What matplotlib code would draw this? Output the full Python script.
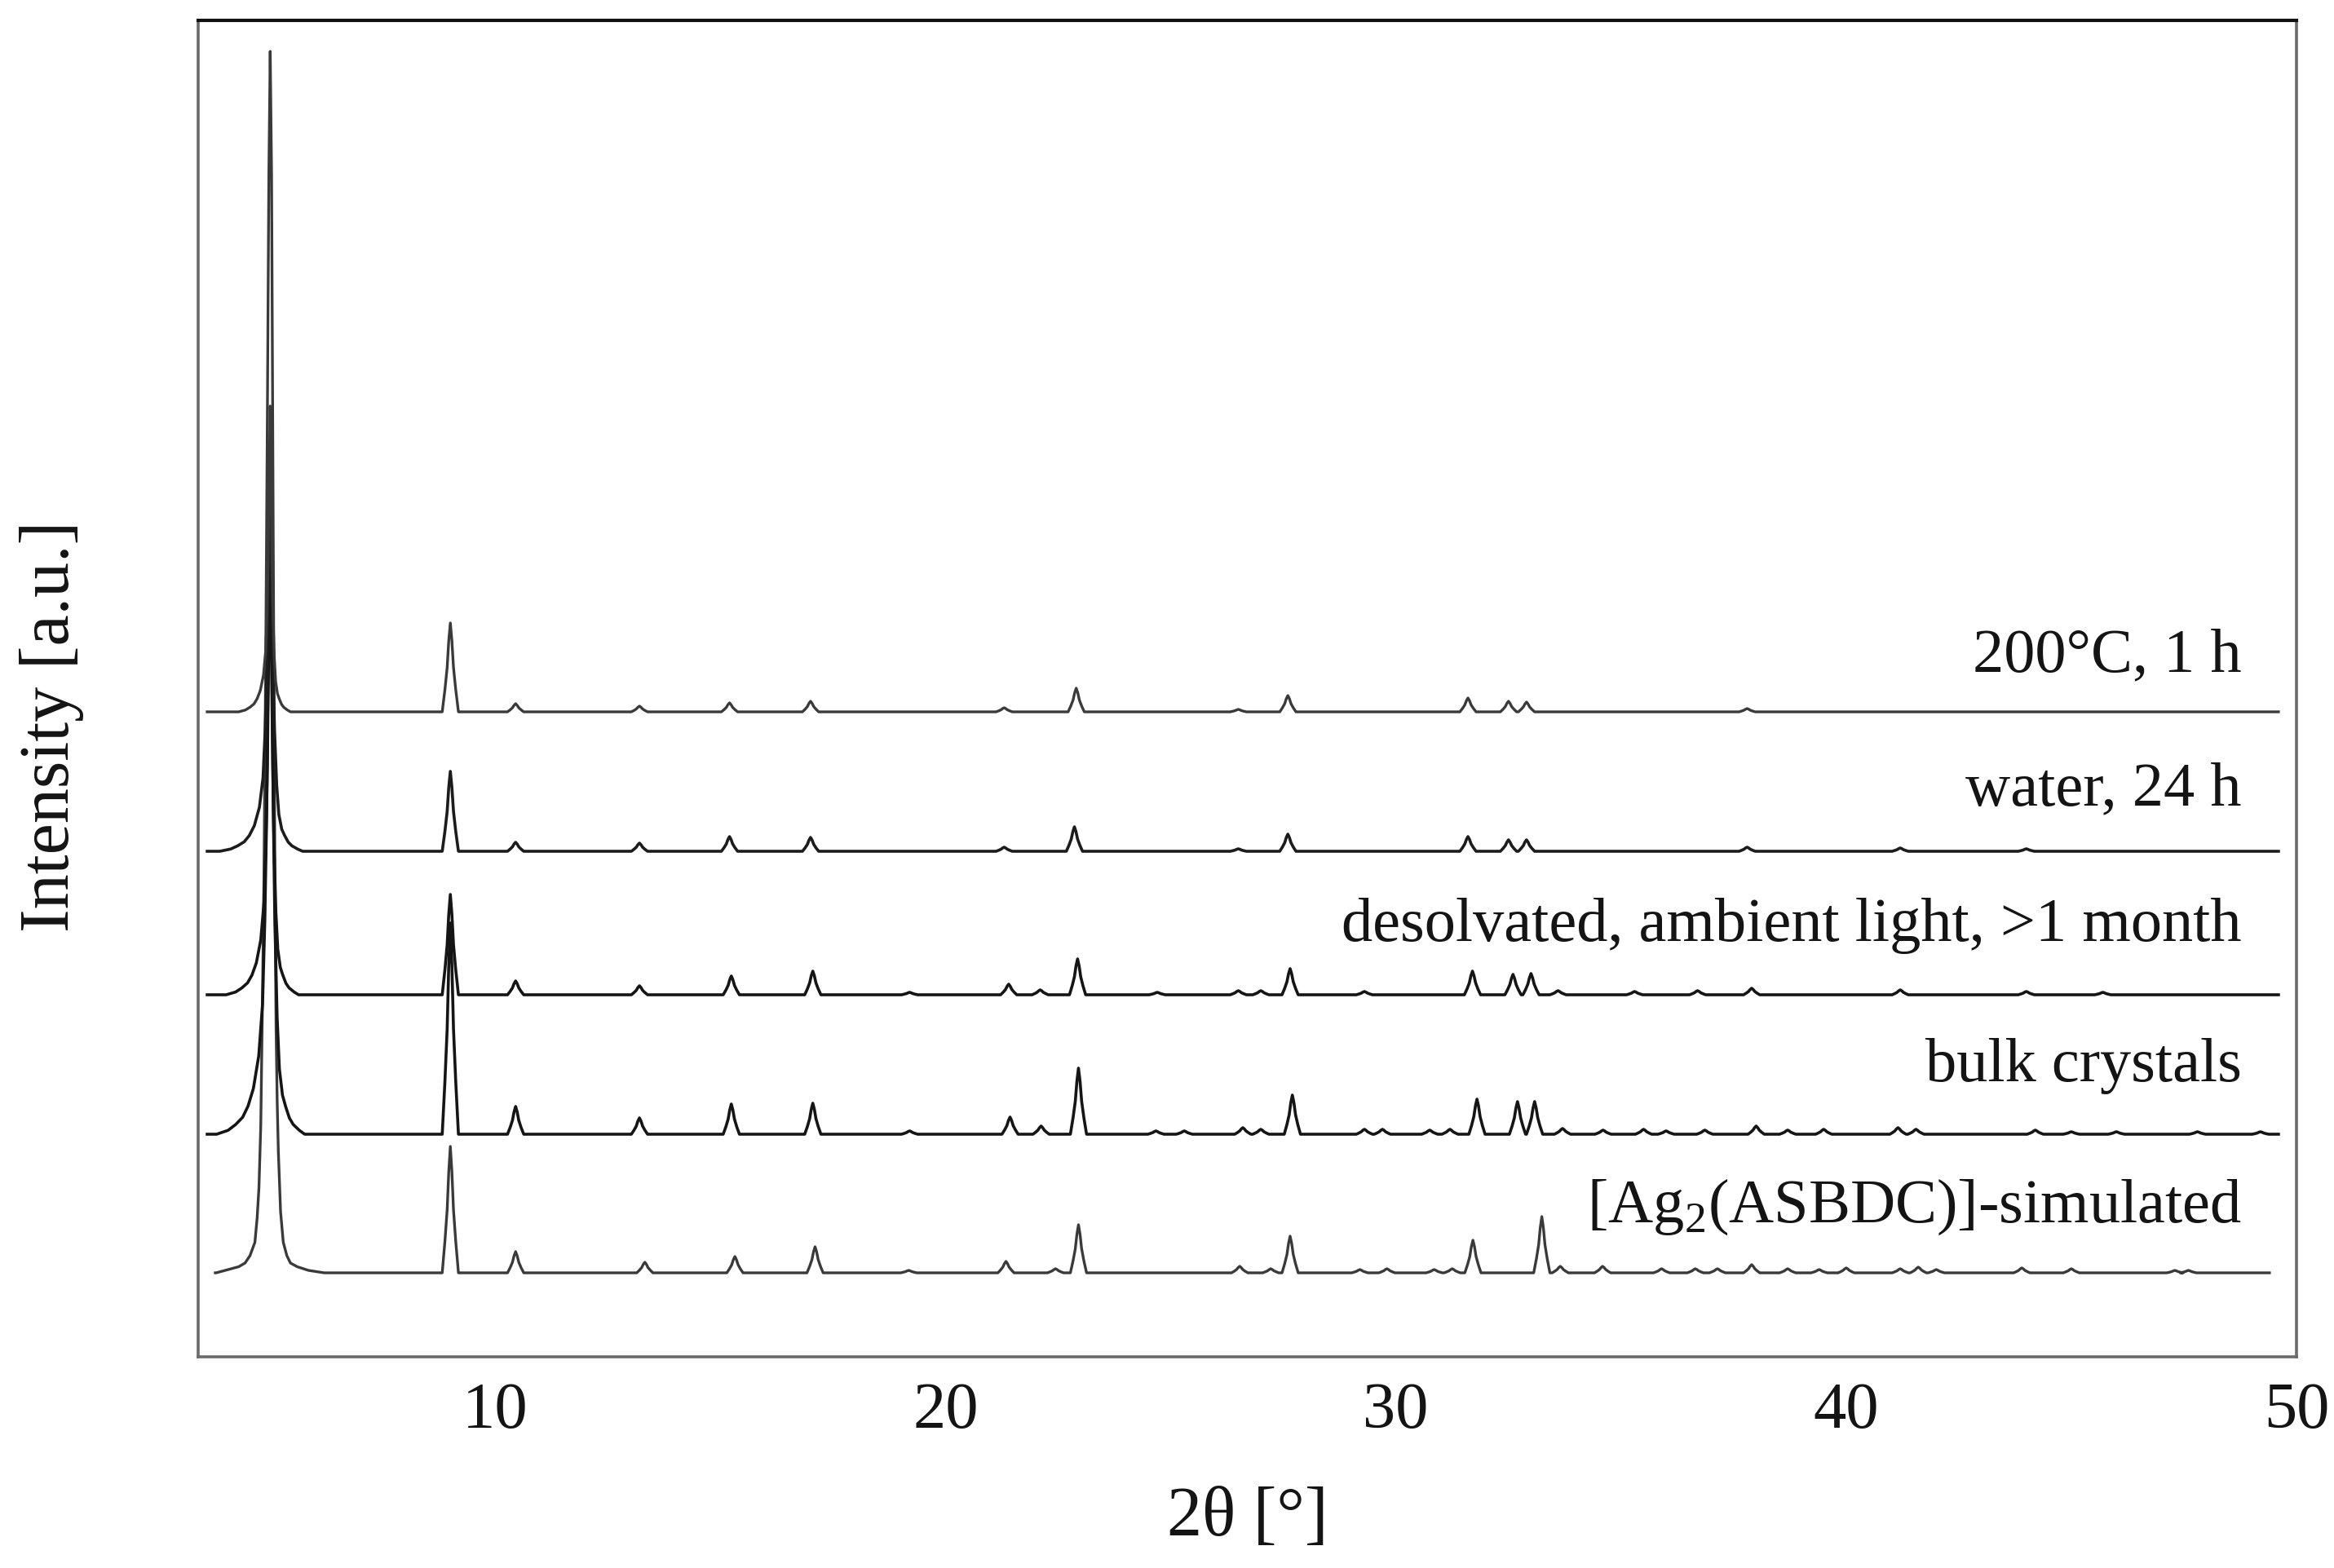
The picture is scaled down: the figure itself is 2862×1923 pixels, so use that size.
import matplotlib
matplotlib.use('Agg')
import matplotlib.pyplot as plt
import numpy as np

plt.rcParams['font.family'] = ['Liberation Serif', 'DejaVu Serif']
plt.rcParams['mathtext.fontset'] = 'custom'
plt.rcParams['mathtext.rm'] = 'Liberation Serif'

# stacked patterns, bottom to top
labels = [r'[Ag$_{\mathregular{2}}$(ASBDC)]-simulated', 'bulk crystals',
          'desolvated, ambient light, >1 month', 'water, 24 h', '200°C, 1 h']
offsets = [103, 273, 444, 620, 791]      # baseline of each pattern [a.u.]
label_y = [165, 338, 510, 677, 841]
x_start = [3.78, 3.6, 3.6, 3.6, 3.6]
x_end = [49.4, 49.6, 49.6, 49.6, 49.6]

# strongest reflection at low angle
main_pos = 5.0
main_height = [1498, 800, 560, 450, 375]
main_width = [1.0, 1.7, 1.4, 1.6, 1.0]

# remaining reflections: 2theta [deg] and height [a.u.]
sim_pos = [9.0, 10.45, 13.32, 15.32, 17.1, 19.18, 21.34, 22.44, 22.95, 26.53, 27.22,
           27.65, 29.2, 29.8, 30.85, 31.25, 31.71, 33.24, 33.65, 34.59, 35.9, 36.65,
           37.14, 37.9, 38.7, 39.4, 40.0, 41.2, 41.6, 42.0, 43.9, 45.0, 47.3, 47.6]
sim_h = [155, 26, 13, 20, 32, 3, 14, 5, 59, 8, 5,
         45, 4, 5, 4, 5, 40, 69, 8, 8, 5, 5,
         5, 10, 5, 4, 6, 5, 7, 4, 6, 5, 3, 3]

bulk_pos = [9.0, 10.45, 13.2, 15.24, 17.05, 19.2, 21.43, 22.12, 22.95, 24.67, 25.3,
            26.6, 27.0, 27.7, 29.3, 29.7, 30.75, 31.2, 31.8, 32.7, 33.08, 33.7,
            34.6, 35.5, 36.0, 36.86, 38.0, 38.7, 39.5, 41.15, 41.55, 44.2, 45.0,
            46.0, 47.8, 49.2]
bulk_h = [259, 34, 20, 37, 38, 4, 21, 10, 81, 4, 4,
          8, 6, 48, 6, 6, 5, 6, 43, 40, 40, 7,
          5, 6, 4, 5, 10, 5, 6, 8, 6, 5, 3,
          3, 3, 3]

des_pos = [9.0, 10.45, 13.2, 15.24, 17.05, 19.2, 21.4, 22.1, 22.93, 24.7, 26.5,
           27.0, 27.65, 29.3, 31.7, 32.6, 33.0, 33.6, 35.3, 36.7, 37.9, 41.2,
           44.0, 45.7]
des_h = [123, 17, 11, 23, 29, 3, 13, 6, 44, 3, 5,
         5, 32, 4, 29, 25, 26, 5, 4, 5, 8, 6,
         4, 3]

water_pos = [9.0, 10.45, 13.2, 15.2, 17.0, 21.3, 22.86, 26.5, 27.6, 31.6, 32.5,
             32.9, 37.8, 41.2, 44.0]
water_h = [98, 11, 10, 18, 17, 5, 30, 3, 21, 18, 14,
           14, 5, 4, 3]

hot_pos = [9.0, 10.45, 13.2, 15.2, 17.0, 21.3, 22.9, 26.5, 27.6, 31.6, 32.5,
           32.9, 37.8]
hot_h = [109, 10, 7, 11, 13, 5, 29, 3, 20, 17, 13,
         12, 4]

peak_pos = [sim_pos, bulk_pos, des_pos, water_pos, hot_pos]
peak_h = [sim_h, bulk_h, des_h, water_h, hot_h]

# peak outlines (offset in deg, fraction of height)
small_dx = [-0.18, -0.12, -0.07, -0.035, 0, 0.035, 0.07, 0.12, 0.18]
small_fr = [0, 0.25, 0.5, 0.8, 1, 0.8, 0.5, 0.25, 0]
main_dx = [-0.7, -0.55, -0.45, -0.36, -0.29, -0.22, -0.15, -0.1, -0.07, -0.045,
           -0.025, 0, 0.02, 0.04, 0.06, 0.09, 0.12, 0.16, 0.2, 0.25, 0.3, 0.38, 0.45]
main_fr = [0, 0.006, 0.015, 0.026, 0.043, 0.07, 0.12, 0.2, 0.33, 0.5,
           0.75, 1, 0.75, 0.5, 0.33, 0.18, 0.1, 0.06, 0.043, 0.025, 0.015, 0.006, 0]
simmain_dx = [-1.2, -0.9, -0.7, -0.56, -0.45, -0.34, -0.29, -0.25, -0.21, -0.18,
              -0.14, -0.1, -0.06, -0.03, 0, 0.03, 0.055, 0.08, 0.105, 0.13, 0.155,
              0.18, 0.23, 0.29, 0.37, 0.45, 0.6, 0.85, 1.2]
simmain_fr = [0, 0.003, 0.005, 0.008, 0.014, 0.025, 0.045, 0.07, 0.12, 0.2,
              0.32, 0.5, 0.72, 0.9, 1, 0.9, 0.7, 0.5, 0.32, 0.2, 0.14,
              0.1, 0.05, 0.025, 0.014, 0.008, 0.005, 0.002, 0]

colors = ['#3a3a3a', '#151515', '#151515', '#1c1c1c', '#3a3a3a']
widths = [2.4, 2.6, 2.6, 2.6, 2.4]

fig = plt.figure(figsize=(28.62, 19.23), dpi=100)
ax = fig.add_axes([243/2862, 1-1664/1923, (2816-243)/2862, (1664-25)/1923])

for i in range(5):
    if i == 0:
        mdx, mfr = np.array(simmain_dx), np.array(simmain_fr)
    else:
        mdx, mfr = np.array(main_dx)*main_width[i], np.array(main_fr)
    xs = [x_start[i]] + list(main_pos + mdx)
    ys = [0] + list(main_height[i]*mfr)
    for p, h in zip(peak_pos[i], peak_h[i]):
        xs += list(p + np.array(small_dx))
        ys += list(h*np.array(small_fr))
    xs.append(x_end[i])
    ys.append(0)
    ax.plot(xs, np.array(ys) + offsets[i], color=colors[i], lw=widths[i],
            solid_joinstyle='round')
    ax.text(48.78, label_y[i], labels[i], ha='right', va='baseline', fontsize=55,
            color='#141414')

ax.set_xlim(3.4, 50)
ax.set_ylim(0, 1639)
ax.set_xticks([10, 20, 30, 40, 50])
ax.set_yticks([])
ax.tick_params(axis='x', length=0, pad=22, labelsize=58, colors='#141414')
for s in ['left', 'right', 'bottom']:
    ax.spines[s].set_color('#6a6a6a')
    ax.spines[s].set_linewidth(2.6)
ax.spines['top'].set_color('#111111')
ax.spines['top'].set_linewidth(3.0)

ax.set_xlabel('2θ [°]', fontsize=62, va='center', color='#141414')
ax.xaxis.set_label_coords(0.5, -0.121)
ax.set_ylabel('Intensity [a.u.]', fontsize=62, va='center', color='#141414')
ax.yaxis.set_label_coords(-0.07, 0.472)

fig.savefig('out.png', dpi=100)
